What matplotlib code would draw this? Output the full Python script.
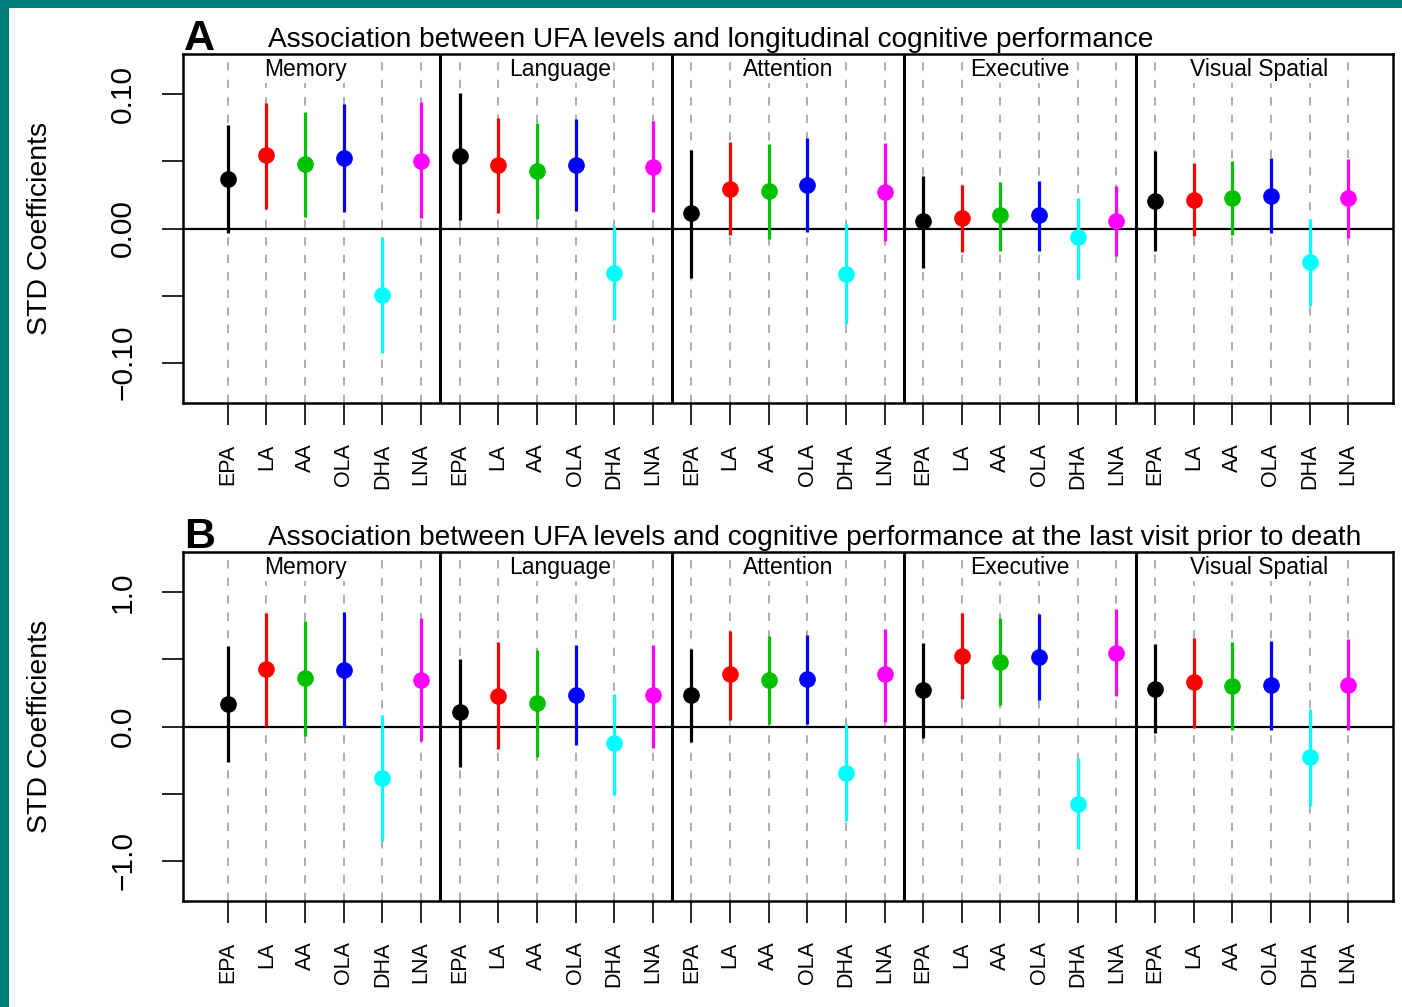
import matplotlib.pyplot as plt
from matplotlib.patches import Rectangle
import numpy as np

plt.rcParams["font.family"] = ["Liberation Sans", "DejaVu Sans"]

domains = ["Memory", "Language", "Attention", "Executive", "Visual Spatial"]
acids = ["EPA", "LA", "AA", "OLA", "DHA", "LNA"]
colors = ["black", "#FF0000", "#00C000", "#0000FF", "#00FFFF", "#FF00FF"]

# panel A: longitudinal (estimate, lower, upper) per domain, per acid
a_est = [
    [0.037, 0.0545, 0.048, 0.0523, -0.0496, 0.0506],
    [0.0538, 0.047, 0.043, 0.0476, -0.033, 0.0459],
    [0.0117, 0.0297, 0.0283, 0.0327, -0.0342, 0.0273],
    [0.0055, 0.008, 0.0097, 0.0097, -0.0065, 0.0055],
    [0.0203, 0.0216, 0.023, 0.0245, -0.025, 0.0225],
]
a_lo = [
    [-0.003, 0.0146, 0.0087, 0.0126, -0.0924, 0.008],
    [0.0067, 0.0117, 0.0074, 0.0129, -0.0684, 0.0121],
    [-0.0367, -0.0052, -0.0077, -0.0027, -0.0714, -0.0094],
    [-0.0297, -0.0176, -0.0164, -0.0169, -0.0374, -0.0206],
    [-0.0169, -0.0057, -0.0045, -0.0037, -0.0578, -0.0069],
]
a_hi = [
    [0.077, 0.0934, 0.087, 0.093, -0.0065, 0.0939],
    [0.1009, 0.0823, 0.0786, 0.0815, 0.0017, 0.0798],
    [0.0587, 0.0645, 0.063, 0.0674, 0.003, 0.0637],
    [0.0394, 0.0327, 0.0347, 0.0352, 0.0228, 0.0315],
    [0.0575, 0.0488, 0.05, 0.0525, 0.0072, 0.0518],
]

# panel B: last visit prior to death
b_est = [
    [0.171, 0.427, 0.36, 0.422, -0.38, 0.347],
    [0.109, 0.228, 0.174, 0.238, -0.124, 0.231],
    [0.236, 0.39, 0.347, 0.352, -0.348, 0.39],
    [0.27, 0.526, 0.484, 0.519, -0.574, 0.551],
    [0.283, 0.328, 0.303, 0.308, -0.224, 0.31],
]
b_lo = [
    [-0.268, 0.005, -0.07, -0.007, -0.852, -0.107],
    [-0.301, -0.169, -0.224, -0.139, -0.51, -0.159],
    [-0.112, 0.05, 0.017, 0.017, -0.703, 0.037],
    [-0.082, 0.203, 0.159, 0.196, -0.909, 0.224],
    [-0.045, -0.008, -0.028, -0.025, -0.592, -0.028],
]
b_hi = [
    [0.60, 0.849, 0.787, 0.854, 0.084, 0.812],
    [0.506, 0.626, 0.571, 0.608, 0.241, 0.606],
    [0.576, 0.712, 0.675, 0.683, 0.017, 0.73],
    [0.621, 0.844, 0.807, 0.837, -0.236, 0.879],
    [0.613, 0.658, 0.626, 0.638, 0.134, 0.65],
]

a_ticks = [-0.10, -0.05, 0.0, 0.05, 0.10]
a_ticklabels = ["\u22120.10", "", "0.00", "", "0.10"]
b_ticks = [-1.0, -0.5, 0.0, 0.5, 1.0]
b_ticklabels = ["\u22121.0", "", "0.0", "", "1.0"]

title_a = "Association between UFA levels and longitudinal cognitive performance"
title_b = "Association between UFA levels and cognitive performance at the last visit prior to death"

W, H = 1402, 1007
fig = plt.figure(figsize=(W / 100, H / 100), dpi=100)
fig.patch.set_facecolor("#007B7B")
fig.patches.append(Rectangle((9 / W, 0), (W - 9) / W, (H - 8) / H,
                             transform=fig.transFigure, facecolor="white",
                             edgecolor="none", zorder=-5))

n = len(domains) * len(acids)
xpos = np.arange(1, n + 1)
title_x = [3.0, 9.6, 15.5, 21.5, 27.7]


def draw_panel(ax, est, lo, hi, ylim, ticks, ticklabels):
    ax.set_facecolor("none")
    ax.set_xlim(-0.16, n + 1.16)
    ax.set_ylim(*ylim)
    for x in xpos:
        ax.axvline(x, color="#A0A0A0", lw=1.2, dashes=(5.0, 5.5), zorder=1)
    ax.axhline(0, color="black", lw=1.6, zorder=2)
    for d in range(len(domains)):
        for k in range(len(acids)):
            x = xpos[d * len(acids) + k]
            ax.plot([x, x], [lo[d][k], hi[d][k]], color=colors[k], lw=2.3,
                    solid_capstyle="butt", zorder=3)
            ax.plot(x, est[d][k], "o", color=colors[k], ms=12, mec="none",
                    zorder=4)
        if d > 0:
            ax.axvline(d * len(acids) + 0.5, color="black", lw=2.2, zorder=5)
        ax.text(title_x[d], ylim[1] - (ylim[1] - ylim[0]) * 0.012, domains[d],
                ha="center", va="top", fontsize=16.5, zorder=6,
                bbox=dict(facecolor="white", edgecolor="none", pad=1))
    ax.set_xticks(xpos)
    ax.set_xticklabels(acids * len(domains), rotation=90, fontsize=15.5)
    ax.set_yticks(ticks)
    ax.set_yticklabels(ticklabels, fontsize=21.5)
    for lab in ax.get_yticklabels():
        lab.set_rotation(90)
        lab.set_va("center")
    ax.tick_params(axis="x", length=16, width=1.2, pad=13)
    ax.tick_params(axis="y", length=15, width=1.2, pad=18)
    for sp in ax.spines.values():
        sp.set_linewidth(1.8)


ax_a = fig.add_axes([183 / W, 1 - 403 / H, 1210 / W, 349 / H])
draw_panel(ax_a, a_est, a_lo, a_hi, (-0.13, 0.13), a_ticks, a_ticklabels)
ax_b = fig.add_axes([183 / W, 1 - 901 / H, 1210 / W, 349 / H])
draw_panel(ax_b, b_est, b_lo, b_hi, (-1.3, 1.3), b_ticks, b_ticklabels)

for ax, letter, title, ybase in [(ax_a, "A", title_a, 47), (ax_b, "B", title_b, 545)]:
    fig.text(184 / W, 1 - (ybase + 3) / H, letter, fontsize=31, fontweight="bold",
             ha="left", va="baseline")
    fig.text(268 / W, 1 - ybase / H, title, fontsize=20.2, ha="left",
             va="baseline")
    fig.text(40 / W, ax.get_position().y0 + ax.get_position().height / 2,
             "STD Coefficients", rotation=90, fontsize=20.5, ha="center",
             va="center")

fig.savefig("out.png", dpi=100, facecolor=fig.get_facecolor())
